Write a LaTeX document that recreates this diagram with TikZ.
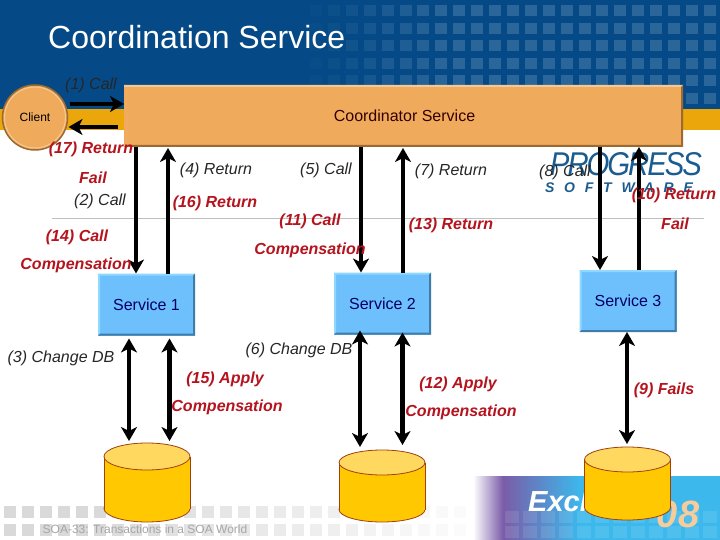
\documentclass[tikz,border=0pt]{standalone}
\usepackage{fontspec}
\usepackage{graphicx}
\setmainfont{Liberation Sans}
\usetikzlibrary{arrows.meta,calc}
\definecolor{hdrblue}{HTML}{054A87}
\definecolor{hdrsq}{HTML}{2A6699}
\definecolor{gold}{HTML}{EAA60A}
\definecolor{boxor}{HTML}{F0AA5C}
\definecolor{boxedge}{HTML}{9A6A30}
\definecolor{svc}{HTML}{6EC0FC}
\definecolor{svcedge}{HTML}{3F7CA8}
\definecolor{svclight}{HTML}{8FD8FF}
\definecolor{redlab}{HTML}{B5141E}
\definecolor{dbedge}{HTML}{A04010}
\definecolor{dbbody}{HTML}{FFC800}
\definecolor{dbtop}{HTML}{FFD860}
\definecolor{logoblue}{HTML}{1A5C90}
\definecolor{sqgray}{HTML}{D9D9D9}
\definecolor{bannerblue}{HTML}{3CB8EC}
\definecolor{bannerpurple}{HTML}{7A5CA8}
\tikzset{
  lab/.style={font=\fontsize{16}{18}\selectfont\itshape, text=black!85, inner sep=0pt},
  redl/.style={font=\fontsize{16}{18}\selectfont\bfseries\itshape, text=redlab, inner sep=0pt},
  svcbox/.style={rectangle, fill=svc, minimum width=97pt, minimum height=62pt, inner sep=0pt, outer sep=0pt, text=blue!40!black, font=\fontsize{16}{18}\selectfont},
  dbslot/.style={rectangle, minimum width=86pt, inner sep=0pt, outer sep=0pt},
  conn/.style={line width=4.5pt, draw=black, -{Stealth[length=14pt,width=16pt,inset=4pt]}},
  dconn/.style={line width=4.5pt, draw=black, {Stealth[length=14pt,width=16pt,inset=4pt]}-{Stealth[length=14pt,width=16pt,inset=4pt]}}
}
\newcommand{\bevelbox}[3]{%
  \fill[#2] (#1.north west) -- (#1.north east) -- ++(-2,2) -- ([shift={(2pt,-2pt)}]#1.north west) -- cycle;
  \fill[#2] (#1.north west) -- (#1.south west) -- ++(2,-2) -- ([shift={(2pt,-2pt)}]#1.north west) -- cycle;
  \fill[#3] (#1.south west) -- (#1.south east) -- ++(-2,-2) -- ([shift={(2pt,2pt)}]#1.south west) -- cycle;
  \fill[#3] (#1.north east) -- (#1.south east) -- ++(-2,-2) -- ([shift={(-2pt,-2pt)}]#1.north east) -- cycle;
}
\newcommand{\dbdraw}[2]{%
  % #1 node name, #2 ellipse y-radius
  \draw[dbedge, line width=.8pt, fill=dbbody] ($(#1.south)+(0,-#2)$) ellipse [x radius=43pt, y radius=#2 pt];
  \fill[dbbody] ($(#1.north west)+(0,#2)$) rectangle ($(#1.south east)+(0,-#2)$);
  \draw[dbedge, line width=.8pt] ($(#1.north west)+(0,#2)$) -- ($(#1.south west)+(0,-#2)$);
  \draw[dbedge, line width=.8pt] ($(#1.north east)+(0,#2)$) -- ($(#1.south east)+(0,-#2)$);
  \draw[dbedge, line width=.8pt, fill=dbtop] ($(#1.north)+(0,#2)$) ellipse [x radius=43pt, y radius=#2 pt];
}
\begin{document}
\begin{tikzpicture}[x=1pt,y=-1pt]
\useasboundingbox (0,0) rectangle (720,540);
% backdrop
\fill[white] (0,0) rectangle (720,540);
\fill[hdrblue] (0,0) rectangle (720,109);
\fill[gold] (0,109) rectangle (720,130);
\foreach \yy in {5,23,40,58,75,93}{
  \foreach \xx in {310,327.9,...,706}{
    \pgfmathsetmacro{\pc}{min(100,max(0,(\xx-300)/1.4))}
    \fill[hdrsq!\pc!hdrblue] (\xx,\yy) rectangle ++(12,11);
  }
}
\foreach \yy in {506,524}{
  \foreach \xx in {4,22,...,462}{
    \pgfmathsetmacro{\pc}{min(100,max(0,(500-\xx)/4.2))}
    \fill[sqgray!\pc!white] (\xx,\yy) rectangle ++(12,12);
  }
}
\draw[black!25, line width=.7pt] (52,218.5) -- (704,218.5);
% banner
\shade[left color=white, right color=bannerpurple] (473,476) rectangle (503,540);
\shade[left color=bannerpurple, right color=bannerblue] (503,476) rectangle (580,540);
\fill[bannerblue] (580,476) rectangle (720,540);
\foreach \yy in {511,526}{
  \foreach \xx in {505,523,...,705}{
    \fill[white, opacity=.1] (\xx,\yy) rectangle ++(14,12);
  }
}
\node[font=\fontsize{29}{30}\selectfont\bfseries\itshape, text=white, inner sep=0pt, anchor=west] (excel) at (528,501) {Excl};
\node[font=\fontsize{38}{40}\selectfont\bfseries\itshape, text=boxor!60!white, inner sep=0pt] (yr) at (678,514) {08};
% logo
\node[inner sep=0pt, text=logoblue] (logo) at (626,164) {\resizebox{152pt}{23pt}{\itshape\addfontfeature{LetterSpace=-7}PROGRESS}};
\node[inner sep=0pt, text=logoblue, font={\fontsize{14}{16}\selectfont\bfseries\itshape\addfontfeature{LetterSpace=70}}] (logo2) at (619,188) {SOFTWARE};
% title
\node[inner sep=0pt, text=white, font=\fontsize{32}{34}\selectfont, anchor=base west] (title) at (48,49) {Coordination Service};
% shapes
\node[circle, draw=boxedge, line width=1.5pt, fill=boxor, minimum size=65pt, inner sep=0pt, outer sep=0pt, font=\fontsize{12}{14}\selectfont] (client) at (35,117.5) {Client};
\draw[boxor!65!white, line width=1pt] (client.center) circle [radius=30.5pt];
\node[rectangle, fill=boxor, minimum width=559pt, minimum height=62pt, inner sep=0pt, outer sep=0pt, text=black!80!red, font=\fontsize{16}{18}\selectfont] (coord) at (403.5,116) {\hspace*{2pt}Coordinator Service};
\bevelbox{coord}{boxor!65!white}{boxedge}
\fill[boxor] ([shift={(0pt,-2pt)}]coord.north west) rectangle ([shift={(2pt,2pt)}]coord.south west);
\node[svcbox] (s1) at (146.5,304.5) {Service 1};
\node[svcbox] (s2) at (382.5,303.5) {Service 2};
\node[svcbox] (s3) at (628,301) {Service 3};
\bevelbox{s1}{svclight}{svcedge}
\bevelbox{s2}{svclight}{svcedge}
\bevelbox{s3}{svclight}{svcedge}
\node[dbslot, minimum height=79pt] (db1) at (147,482.5) {};
\node[dbslot, minimum height=72pt] (db2) at (382,486) {};
\node[dbslot, minimum height=73pt] (db3) at (627.5,483.5) {};
\dbdraw{db1}{13.5}
\dbdraw{db2}{12.5}
\dbdraw{db3}{12.5}
% x positions of the connectors
\coordinate (xa) at (136,0);
\coordinate (xb) at (168,0);
\coordinate (xc) at (361,0);
\coordinate (xd) at (403,0);
\coordinate (xe) at (600,0);
\coordinate (xf) at (639,0);
\coordinate (xg) at (129,0);
\coordinate (xh) at (169.5,0);
\coordinate (xi) at (360,0);
\coordinate (xj) at (402.5,0);
\coordinate (xk) at (627,0);
\coordinate (ya) at (0,104);
\coordinate (yb) at (0,127);
% connectors
\draw[conn] (client.east |- ya) ++(2,0) -- (coord.west |- ya);
\draw[conn] ([xshift=-6pt]coord.west |- yb) -- ([xshift=1pt]client.east |- yb);
\draw[conn] (coord.south -| xa) -- (s1.north -| xa);
\draw[conn, shorten >=1pt] (s1.north -| xb) -- (coord.south -| xb);
\draw[conn] (coord.south -| xc) -- (s2.north -| xc);
\draw[conn, shorten >=1pt] (s2.north -| xd) -- (coord.south -| xd);
\draw[conn] (coord.south -| xe) -- (s3.north -| xe);
\draw[conn] (s3.north -| xf) -- (coord.south -| xf);
\draw[dconn, shorten <=3pt, shorten >=2pt] (s1.south -| xg) -- (db1.north -| xg);
\draw[dconn, shorten <=3pt, shorten >=2pt] (s1.south -| xh) -- (db1.north -| xh);
\draw[dconn, shorten <=-4pt, shorten >=3pt] (s2.south -| xi) -- (db2.north -| xi);
\draw[dconn, shorten <=-2pt, shorten >=5pt] (s2.south -| xj) -- (db2.north -| xj);
\draw[dconn, shorten >=3pt] (s3.south -| xk) -- (db3.north -| xk);
% labels
\node[lab] (l1) at (91,85) {(1) Call};
\node[redl] (l17) at (91,149) {(17) Return};
\node[redl] (lf1) at (93,178) {Fail};
\node[lab] (l2) at (100,201) {(2) Call};
\node[lab] (l4) at (216,170) {(4) Return};
\node[lab] (l5) at (326,170) {(5) Call};
\node[lab] (l7) at (451,171) {(7) Return};
\node[lab] (l8) at (565,172) {(8) Call};
\node[redl] (l16) at (215,203) {(16) Return};
\node[redl] (l11) at (310,221) {(11) Call};
\node[redl] (lc1) at (310,250) {Compensation};
\node[redl] (l14) at (77,237) {(14) Call};
\node[redl] (lc2) at (76,265) {Compensation};
\node[redl] (l13) at (451,225) {(13) Return};
\node[redl] (l10) at (674,195) {(10) Return};
\node[redl] (lf2) at (675,224) {Fail};
\node[lab] (l3) at (61,358) {(3) Change DB};
\node[lab] (l6) at (299,350) {(6) Change DB};
\node[redl] (l15) at (225,379) {(15) Apply};
\node[redl] (lc3) at (227,407) {Compensation};
\node[redl] (l12) at (458,384) {(12) Apply};
\node[redl] (lc4) at (461,412) {Compensation};
\node[redl] (l9) at (664,390) {(9) Fails};
\node[inner sep=0pt, text=black!35, font=\fontsize{12}{14}\selectfont] (foot) at (145,529) {SOA-33: Transactions in a SOA World};
\end{tikzpicture}
\end{document}
